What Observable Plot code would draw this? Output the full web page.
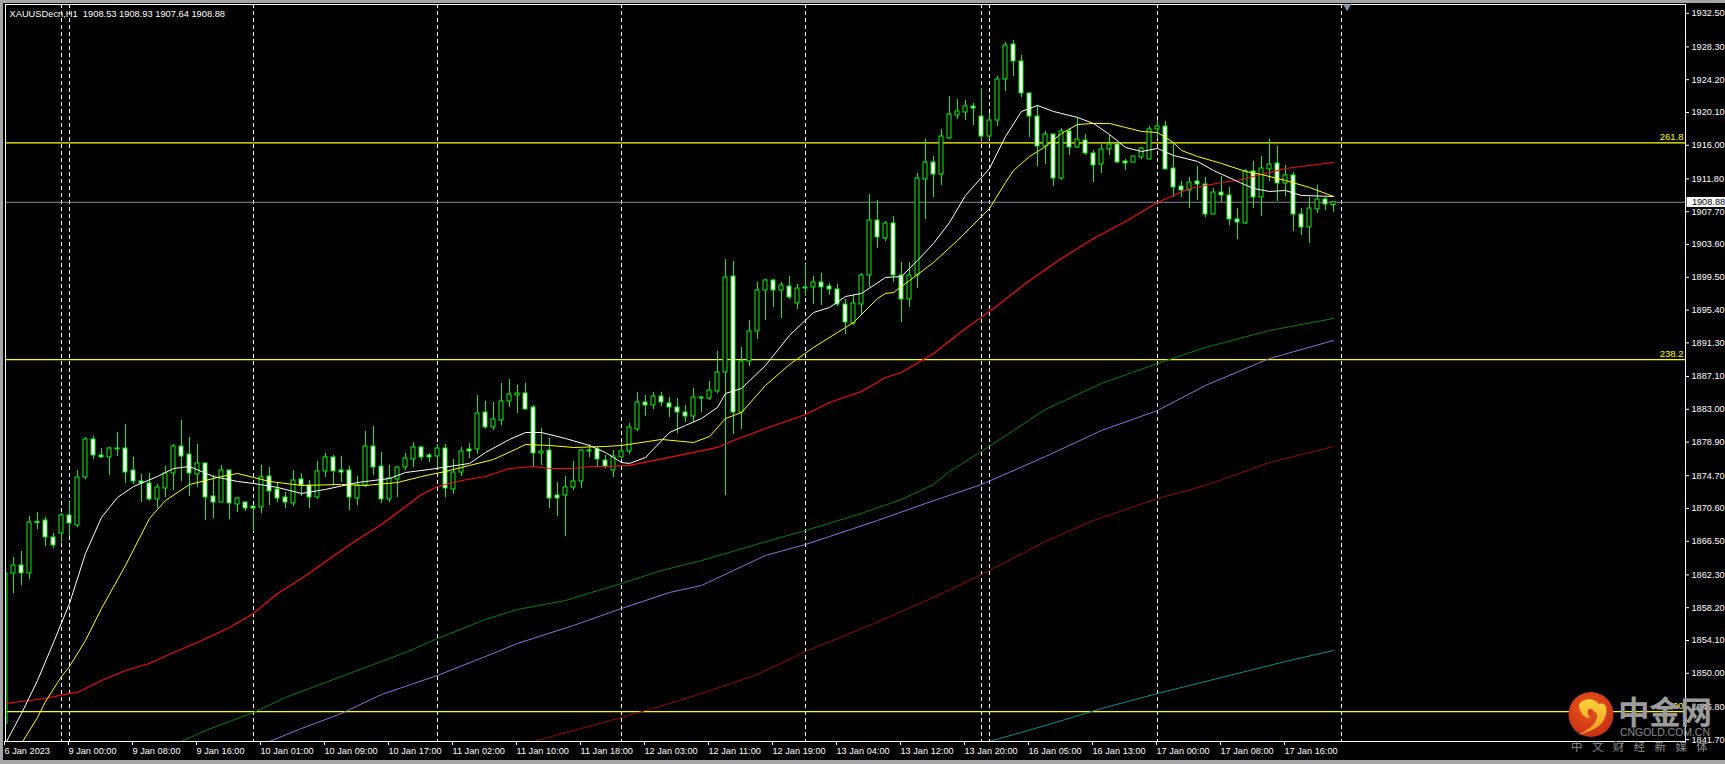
<!DOCTYPE html>
<html><head><meta charset="utf-8">
<script src="https://cdn.jsdelivr.net/npm/d3@7"></script>
<script src="https://cdn.jsdelivr.net/npm/@observablehq/plot@0.6"></script>
<style>
html,body{margin:0;padding:0;background:#a6a6a6;overflow:hidden}
#chart{position:absolute;left:3px;top:3px;width:1722px;height:757px;background:#000}
svg{display:block}
</style></head><body><div id="chart"></div>
<script>
const opens=[1843.73,1862.48,1863.48,1862.48,1868.91,1869.1,1866.98,1867.48,1869.73,1868.48,1874.48,1879.23,1877.23,1876.98,1878.1,1878.1,1875.35,1873.98,1873.73,1871.73,1873.1,1874.98,1878.35,1877.35,1874.85,1876.23,1872.1,1871.35,1875.35,1871.1,1871.35,1870.85,1870.73,1874.6,1872.98,1871.98,1871.23,1874.23,1873.48,1871.98,1875.23,1876.98,1875.35,1875.35,1871.85,1873.48,1878.35,1875.85,1871.73,1874.23,1875.73,1876.73,1878.23,1877.23,1877.1,1878.1,1872.98,1875.1,1877.98,1877.98,1882.6,1880.73,1881.6,1883.98,1884.73,1884.98,1883.23,1877.48,1877.85,1872.23,1872.23,1873.23,1873.98,1877.85,1877.98,1876.6,1875.35,1876.98,1877.73,1880.48,1883.85,1883.48,1884.6,1883.73,1883.23,1882.6,1882.1,1884.48,1884.35,1885.23,1887.6,1899.6,1882.6,1888.98,1892.73,1897.85,1899.1,1897.85,1898.35,1896.23,1898.23,1898.23,1898.85,1898.35,1897.98,1896.1,1893.73,1896.1,1899.73,1906.6,1904.35,1906.23,1899.73,1896.73,1899.73,1911.73,1913.85,1912.35,1916.85,1919.73,1920.1,1920.85,1919.6,1917.1,1919.1,1924.23,1928.6,1926.48,1922.48,1919.6,1915.85,1917.35,1911.85,1917.73,1915.73,1916.6,1914.98,1913.6,1915.48,1916.1,1913.98,1913.85,1914.48,1914.23,1917.98,1918.35,1913.1,1910.85,1910.35,1911.48,1911.1,1907.35,1910.1,1909.73,1906.73,1906.23,1912.73,1909.48,1912.98,1913.73,1911.23,1912.23,1907.35,1905.73,1907.98,1909.23,1908.53];
const highs=[1863.35,1864.48,1865.23,1869.6,1870.1,1869.48,1867.48,1869.98,1871.35,1875.35,1879.48,1879.6,1878.1,1878.23,1880.1,1881.1,1876.98,1874.85,1874.98,1873.6,1875.85,1878.6,1881.6,1879.48,1878.6,1876.23,1874.73,1875.98,1875.35,1871.98,1871.35,1870.85,1875.98,1875.73,1873.85,1872.6,1875.35,1874.98,1874.1,1876.48,1877.48,1877.23,1877.1,1875.85,1874.6,1880.23,1880.85,1877.6,1875.98,1875.85,1877.48,1878.85,1878.35,1877.48,1878.6,1878.6,1876.73,1878.23,1878.73,1884.73,1883.98,1883.85,1886.23,1886.73,1885.98,1886.23,1883.48,1880.6,1879.35,1873.85,1874.6,1876.48,1877.98,1878.6,1878.23,1877.23,1877.85,1878.73,1881.23,1885.1,1884.73,1885.1,1885.1,1884.48,1884.35,1883.48,1885.6,1884.6,1886.48,1890.23,1901.73,1901.48,1890.73,1894.1,1898.85,1899.23,1899.23,1898.85,1899.6,1898.6,1901.1,1899.6,1899.98,1898.73,1898.6,1896.73,1897.35,1899.98,1909.85,1909.1,1906.48,1907.1,1901.35,1901.35,1912.48,1916.73,1914.6,1917.98,1922.1,1921.73,1921.6,1921.23,1923.1,1919.98,1924.6,1928.85,1929.1,1927.23,1922.48,1920.98,1917.73,1917.35,1918.1,1918.1,1919.48,1917.35,1915.35,1916.1,1917.23,1916.23,1914.23,1914.6,1915.73,1918.35,1919.1,1918.98,1916.35,1911.48,1911.98,1913.35,1911.98,1910.6,1912.1,1910.73,1908.1,1912.98,1913.98,1914.6,1916.73,1915.85,1913.48,1912.6,1908.1,1909.48,1910.98,1909.48,1908.93];
const lows=[1843.73,1859.98,1860.98,1861.73,1867.98,1865.85,1865.6,1866.35,1867.1,1868.23,1874.23,1876.73,1876.98,1874.73,1877.1,1873.73,1873.6,1871.35,1871.48,1870.6,1871.98,1872.85,1873.98,1872.1,1873.23,1869.1,1869.35,1871.35,1869.23,1870.1,1870.23,1867.73,1869.98,1870.98,1871.35,1870.6,1870.85,1872.1,1870.6,1871.73,1874.48,1873.48,1873.85,1870.35,1870.98,1873.23,1874.73,1871.23,1871.35,1871.98,1875.35,1875.73,1876.6,1876.35,1875.73,1871.98,1872.35,1874.6,1876.85,1877.35,1880.48,1880.35,1880.98,1883.23,1882.48,1882.85,1875.85,1875.98,1870.6,1869.6,1867.1,1872.85,1873.1,1876.98,1875.73,1875.6,1874.48,1876.85,1877.35,1880.23,1882.1,1882.98,1883.35,1881.98,1879.98,1881.35,1881.35,1882.6,1884.1,1884.98,1872.23,1879.85,1880.48,1888.35,1891.73,1894.1,1895.73,1894.35,1896.73,1895.48,1897.1,1896.1,1895.98,1897.23,1895.85,1892.35,1893.48,1894.85,1898.23,1903.1,1903.98,1898.85,1893.85,1895.73,1898.1,1906.73,1909.48,1910.98,1916.73,1919.23,1919.1,1918.48,1916.6,1916.73,1918.35,1922.73,1924.6,1921.98,1916.98,1913.35,1913.6,1910.85,1911.6,1914.73,1915.6,1914.73,1911.35,1912.48,1914.73,1913.73,1912.85,1913.85,1914.23,1914.23,1916.85,1912.98,1909.48,1909.48,1908.1,1909.1,1906.98,1907.35,1908.85,1905.98,1904.23,1906.1,1908.1,1907.1,1911.48,1908.98,1909.6,1905.23,1904.73,1903.73,1907.48,1907.85,1907.64];
const closes=[1862.48,1863.48,1862.48,1868.85,1868.79,1866.98,1865.98,1869.73,1868.73,1874.48,1879.23,1877.23,1876.98,1878.1,1877.98,1875.1,1873.98,1873.73,1871.73,1873.23,1874.98,1878.35,1877.1,1874.98,1876.23,1871.98,1871.35,1875.35,1871.23,1871.85,1870.6,1870.6,1874.48,1872.73,1871.85,1871.35,1874.1,1873.48,1871.98,1875.23,1876.98,1875.23,1875.1,1871.98,1873.48,1878.35,1875.73,1871.73,1874.35,1875.73,1876.85,1878.23,1876.98,1876.98,1878.1,1873.1,1875.1,1877.73,1877.73,1882.48,1880.73,1881.73,1883.98,1884.85,1884.98,1882.98,1877.48,1877.73,1871.85,1871.85,1873.23,1873.98,1877.85,1877.73,1876.73,1875.85,1877.1,1877.73,1880.73,1883.85,1883.48,1884.6,1883.85,1883.23,1882.6,1882.1,1884.48,1884.35,1885.35,1887.6,1899.48,1882.6,1888.98,1892.73,1897.85,1899.1,1897.85,1898.48,1896.98,1898.1,1898.1,1898.85,1898.23,1897.98,1896.1,1893.85,1896.23,1899.73,1906.6,1904.48,1906.23,1899.73,1896.73,1899.73,1911.85,1913.85,1912.35,1917.1,1919.85,1920.23,1920.85,1920.6,1917.1,1919.1,1924.23,1928.48,1926.48,1922.48,1919.6,1915.85,1917.35,1911.85,1917.73,1915.73,1916.73,1914.98,1913.48,1915.48,1916.1,1913.85,1913.73,1914.6,1915.6,1917.98,1918.35,1912.98,1910.73,1910.35,1911.35,1911.1,1907.35,1910.1,1909.73,1906.73,1906.35,1912.73,1909.48,1913.1,1913.6,1911.23,1912.23,1907.35,1905.73,1908.1,1909.23,1908.6,1908.88];

const maWhite=[[0,1841.23],[2,1844.98],[4,1849.1],[6,1853.85],[8,1858.73],[10,1864.98],[12,1869.48],[14,1871.98],[16,1873.35],[19,1874.6],[21,1875.6],[23,1875.85],[26,1874.6],[29,1873.98],[31,1873.73],[34,1873.23],[37,1872.48],[40,1872.98],[44,1873.85],[48,1874.35],[50,1875.1],[53,1875.48],[58,1876.23],[60,1877.6],[63,1879.23],[65,1880.1],[67,1880.1],[70,1879.35],[73,1878.48],[75,1877.6],[77,1876.35],[78,1876.23],[80,1876.98],[83,1880.1],[85,1880.98],[87,1881.85],[89,1883.23],[90,1884.98],[92,1885.6],[95,1888.48],[98,1892.23],[101,1895.1],[103,1895.73],[105,1897.1],[107,1897.48],[110,1899.48],[112,1899.6],[114,1901.6],[116,1903.73],[118,1906.35],[120,1909.73],[123,1913.1],[125,1917.1],[127,1920.23],[129,1920.98],[131,1920.23],[134,1919.48],[136,1918.73],[138,1917.35],[140,1915.73],[142,1915.23],[144,1915.6],[146,1914.73],[149,1913.98],[151,1912.85],[154,1911.48],[156,1910.6],[158,1910.23],[160,1910.35],[162,1909.73],[166,1909.6]];
const maYellow=[[2,1841.23],[4,1844.48],[5,1846.48],[7,1849.6],[8,1850.85],[10,1854.1],[12,1858.1],[15,1863.48],[18,1869.35],[20,1871.6],[23,1873.6],[25,1874.1],[27,1874.6],[29,1874.98],[31,1874.48],[33,1873.98],[37,1873.48],[42,1873.6],[45,1873.48],[49,1873.85],[52,1874.6],[55,1875.23],[58,1875.98],[61,1876.73],[64,1878.1],[65,1878.6],[68,1878.48],[71,1878.23],[75,1878.35],[77,1878.48],[82,1879.23],[86,1878.85],[88,1879.6],[90,1881.85],[92,1882.6],[95,1885.98],[98,1888.6],[101,1890.73],[104,1892.6],[106,1893.85],[109,1896.85],[110,1897.48],[111,1897.6],[113,1899.1],[116,1901.35],[119,1904.1],[121,1906.1],[123,1908.1],[125,1911.35],[126,1912.85],[128,1914.6],[130,1915.85],[132,1917.48],[134,1918.6],[136,1918.73],[138,1918.73],[140,1918.23],[142,1917.73],[144,1917.6],[146,1916.35],[147,1915.35],[149,1914.6],[152,1913.73],[155,1912.73],[157,1912.35],[160,1911.6],[163,1910.73],[166,1909.6]];
const maRed=[[0,1846.23],[1,1846.35],[5,1846.85],[8,1847.48],[9,1847.6],[12,1849.1],[15,1850.35],[18,1851.23],[21,1852.6],[24,1853.85],[28,1855.73],[31,1857.48],[34,1859.98],[37,1861.85],[40,1863.98],[44,1866.73],[47,1868.6],[49,1870.1],[52,1872.35],[54,1873.35],[57,1874.1],[60,1874.6],[63,1875.6],[66,1875.85],[68,1875.6],[71,1875.6],[73,1875.85],[75,1875.85],[78,1875.98],[83,1876.98],[89,1878.23],[91,1879.1],[95,1880.6],[100,1882.35],[103,1883.85],[107,1885.23],[110,1886.98],[112,1887.6],[116,1889.98],[120,1893.1],[124,1895.98],[128,1899.1],[132,1901.85],[136,1904.35],[140,1906.48],[144,1908.85],[148,1910.6],[152,1911.35],[154,1911.6],[157,1912.35],[160,1913.1],[164,1913.6],[166,1913.85]];
const maGreen=[[22,1841.48],[25,1842.85],[31,1845.1],[35,1846.98],[40,1848.85],[45,1850.73],[50,1852.6],[54,1854.35],[60,1856.73],[64,1857.98],[70,1859.1],[77,1861.23],[82,1862.85],[87,1864.1],[96,1866.73],[100,1867.85],[107,1869.98],[112,1871.73],[116,1873.6],[118,1875.23],[122,1877.73],[126,1880.35],[130,1882.98],[137,1886.23],[144,1888.73],[150,1890.73],[158,1892.85],[166,1894.35]];
const maPurple=[[33,1841.48],[37,1843.1],[42,1844.98],[47,1847.35],[54,1849.73],[60,1852.1],[64,1853.73],[71,1855.98],[77,1858.1],[83,1860.1],[87,1860.98],[95,1864.73],[100,1866.1],[109,1869.1],[115,1871.23],[122,1873.6],[130,1877.1],[137,1880.35],[144,1882.85],[150,1885.98],[158,1889.35],[166,1891.6]];
const maDarkRed=[[66,1841.48],[71,1842.85],[77,1844.48],[83,1846.23],[87,1847.48],[94,1849.85],[100,1852.73],[108,1855.98],[116,1859.48],[122,1862.35],[130,1866.48],[136,1869.1],[144,1871.85],[150,1873.48],[158,1876.35],[166,1878.35]];
const maTeal=[[123,1841.48],[130,1843.48],[137,1845.6],[144,1847.48],[152,1849.48],[160,1851.48],[166,1852.85]];

const priceTicks=[1932.5,1928.3,1924.2,1920.1,1916,1911.8,1907.7,1903.6,1899.5,1895.4,1891.3,1887.1,1883,1878.9,1874.7,1870.6,1866.5,1862.3,1858.2,1854.1,1850,1845.8,1841.7];
const timeLabels=["6 Jan 2023","9 Jan 00:00","9 Jan 08:00","9 Jan 16:00","10 Jan 01:00","10 Jan 09:00","10 Jan 17:00","11 Jan 02:00","11 Jan 10:00","11 Jan 18:00","12 Jan 03:00","12 Jan 11:00","12 Jan 19:00","13 Jan 04:00","13 Jan 12:00","13 Jan 20:00","16 Jan 05:00","16 Jan 13:00","17 Jan 00:00","17 Jan 08:00","17 Jan 16:00"];
const timeTicks=[0,8,16,24,32,40,48,56,64,72,80,88,96,104,112,120,128,136,144,152,160];
const sessionBars=[7,8,31,54,77,100,122,123,144,167];
const fibLevels=[1916.3,1889.2,1845.2];
const fibLabels=["261.8","238.2","200"];
const bidPrice=1908.88;
const header="XAUUSDecn,H1\u00a0\u00a01908.53 1908.93 1907.64 1908.88";

const FONT='"Liberation Sans"';
const candles=opens.map((o,i)=>({i,o,h:highs[i],l:lows[i],c:closes[i]}));
const ma=(pts,stroke,w=1)=>Plot.line(pts,{x:d=>d[0],y:d=>d[1],stroke,strokeWidth:w,clip:"frame",curve:"linear"});

function logo(index,scales,values,dims){
  const g=d3.create("svg:g").attr("transform","translate(-3,-3)").attr("text-anchor","start");
  const defs=g.append("defs");
  const gr=defs.append("radialGradient").attr("id","lg").attr("cx","45%").attr("cy","35%").attr("r","70%");
  gr.append("stop").attr("offset","0%").attr("stop-color","#ee5a18");
  gr.append("stop").attr("offset","100%").attr("stop-color","#c22c18");
  const gy=defs.append("linearGradient").attr("id","ly").attr("x1","0").attr("y1","0").attr("x2","0").attr("y2","1");
  gy.append("stop").attr("offset","0%").attr("stop-color","#fbd23e");
  gy.append("stop").attr("offset","100%").attr("stop-color","#f49a22");
  g.append("circle").attr("cx",1591).attr("cy",714.5).attr("r",22.5).attr("fill","url(#lg)");
  g.append("path").attr("fill","url(#ly)")
   .attr("d","M1579 705c3-7 15-8 20-1c2-1 6-1 7 3c2 8-3 18-12 22c-4 2-12 5-16 6c9-5 18-10 19-18c1-4-3-7-7-5c-2 1-2 4 0 6c-6 1-11-7-11-13z");
  g.append("circle").attr("cx",1590.5).attr("cy",712).attr("r",3).attr("fill","#d8421a");
  const t=(s,x,y,size,fill,extra={})=>{const e=g.append("text").attr("x",x).attr("y",y).attr("text-anchor","start").attr("font-size",size).attr("fill",fill).text(s);for(const k in extra)e.attr(k,extra[k]);return e;};
  t("中金网",1618,724,31.5,"#9c9c9c",{"font-family":'"Noto Sans CJK SC"',"font-weight":700,"textLength":94});
  t("CNGOLD.COM.CN",1620,736,10.5,"#8c8c8c",{"font-family":'"Liberation Sans"',"textLength":90});
  t("中 文 财 经 新 媒 体",1571,751,11.5,"#8e8e8e",{"font-family":'"Noto Sans CJK SC"',"letter-spacing":"3.4px"});
  return g.node();
}

const plot=Plot.plot({
  width:1722,height:757,
  marginLeft:2,marginRight:40,marginTop:1,marginBottom:19,
  style:{background:"#000",fontFamily:FONT,overflow:"visible"},
  x:{domain:[0,210],axis:null},
  y:{domain:[1841.475,1933.6],axis:null},
  marks:[
    Plot.ruleX(sessionBars,{stroke:"#fff",strokeDasharray:"4,3",clip:"frame"}),
    Plot.ruleY(fibLevels,{stroke:"#ffff00",strokeWidth:1.2}),
    Plot.ruleY([bidPrice],{stroke:"#8a8f94",strokeWidth:1.2}),
    Plot.text(fibLabels,{frameAnchor:"right",y:(d,i)=>fibLevels[i],dx:-2,dy:-6,text:d=>d,fill:"#ffff00",fontSize:9.5,textAnchor:"end"}),
    Plot.ruleX(candles,{x:"i",y1:"l",y2:"h",stroke:"#10ee10",clip:"frame"}),
    Plot.rect(candles,{x1:d=>d.i-0.25,x2:d=>d.i+0.25,y1:"o",y2:"c",fill:d=>d.c>d.o?"#000":"#fff",stroke:"#10ee10",clip:"frame"}),
    ma(maTeal,"#0d8f8f"),
    ma(maDarkRed,"#8f0a0a"),
    ma(maPurple,"#9370db"),
    ma(maGreen,"#0a7d0a"),
    ma(maRed,"#f01010",1.2),
    ma(maYellow,"#ffff00"),
    ma(maWhite,"#ffffff"),
    Plot.frame({stroke:"#fff"}),
    Plot.axisY(priceTicks,{anchor:"right",label:null,tickSize:3,tickPadding:3,tickFormat:d=>d.toFixed(2),color:"#fff",stroke:"#fff",fontSize:9.2}),
    Plot.axisX(timeTicks,{anchor:"bottom",label:null,tickSize:4,tickPadding:2,textAnchor:"start",dx:-1,tickFormat:(d,i)=>timeLabels[timeTicks.indexOf(d)],color:"#fff",stroke:"#fff",fontSize:9.2}),
    Plot.rect([bidPrice],{x1:210.2,x2:215,y1:d=>d+0.6,y2:d=>d-0.65,fill:"#fff"}),
    Plot.text([bidPrice],{x:210.8,y:d=>d,text:d=>d.toFixed(2),fill:"#000",fontSize:9.2,textAnchor:"start"}),
    Plot.text([header],{frameAnchor:"top-left",dx:4,dy:6,text:d=>d,fill:"#fff",fontSize:9.3,textAnchor:"start"}),
    Plot.dot([0],{x:()=>167.7,frameAnchor:"top",symbol:"triangle",r:3,fill:"#7f8fa8",rotate:180,dy:2}),
    logo
  ]
});
document.getElementById("chart").append(plot);
</script></body></html>
